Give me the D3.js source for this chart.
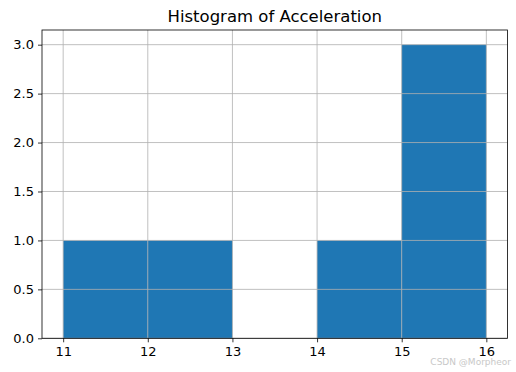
<!DOCTYPE html>
<html>
<head>
<meta charset="utf-8">
<script src="https://cdn.jsdelivr.net/npm/d3@7"></script>
<style>
  body { margin: 0; background: #fff; }
  svg text { font-family: "DejaVu Sans", sans-serif; }
</style>
</head>
<body>
<svg id="chart"></svg>
<script>
// Histogram bins (left edge, right edge) and counts
const binStarts = [11, 12, 13, 14, 15];
const binEnds = [12, 13, 14, 15, 16];
const counts = [1, 1, 0, 1, 3];
const xTicks = [11, 12, 13, 14, 15, 16];
const yTicks = [0, 0.5, 1.0, 1.5, 2.0, 2.5, 3.0];

function drawHistogram() {
    const width = 516;
    const height = 372;
    const margin = { top: 30, right: 8.5, bottom: 33.7, left: 42 };

    const xScale = d3.scaleLinear()
        .domain([10.75, 16.25])
        .range([margin.left, width - margin.right]);
    const yScale = d3.scaleLinear()
        .domain([0, 3.15])
        .range([height - margin.bottom, margin.top]);

    const svg = d3.select("#chart")
        .attr("width", width)
        .attr("height", height);

    const bins = binStarts.map((s, i) => ({ x0: s, x1: binEnds[i], n: counts[i] }));

    // Bars
    svg.append("g")
        .selectAll("rect")
        .data(bins)
        .join("rect")
        .attr("x", d => xScale(d.x0))
        .attr("y", d => yScale(d.n))
        .attr("width", d => xScale(d.x1) - xScale(d.x0))
        .attr("height", d => yScale(0) - yScale(d.n))
        .attr("fill", "#1f77b4");

    // Grid on top of bars
    const grid = svg.append("g")
        .attr("stroke", "#b0b0b0")
        .attr("stroke-width", 0.8);
    grid.selectAll("line.gx")
        .data(xTicks)
        .join("line")
        .attr("class", "gx")
        .attr("x1", d => xScale(d))
        .attr("x2", d => xScale(d))
        .attr("y1", margin.top)
        .attr("y2", height - margin.bottom);
    grid.selectAll("line.gy")
        .data(yTicks)
        .join("line")
        .attr("class", "gy")
        .attr("x1", margin.left)
        .attr("x2", width - margin.right)
        .attr("y1", d => yScale(d))
        .attr("y2", d => yScale(d));

    // Axes
    const xAxis = d3.axisBottom(xScale)
        .tickValues(xTicks)
        .tickFormat(d3.format("d"))
        .tickSize(4)
        .tickPadding(4)
        .tickSizeOuter(0);
    const yAxis = d3.axisLeft(yScale)
        .tickValues(yTicks)
        .tickFormat(d3.format(".1f"))
        .tickSize(4)
        .tickPadding(4)
        .tickSizeOuter(0);

    const gx = svg.append("g")
        .attr("transform", `translate(0,${height - margin.bottom})`)
        .call(xAxis);
    const gy = svg.append("g")
        .attr("transform", `translate(${margin.left},0)`)
        .call(yAxis);
    [gx, gy].forEach(g => {
        g.select(".domain").remove();
        g.selectAll("text").attr("font-size", 13).attr("fill", "#000");
        g.selectAll("line").attr("stroke", "#000").attr("stroke-width", 0.8);
    });

    // Frame
    svg.append("rect")
        .attr("x", margin.left)
        .attr("y", margin.top)
        .attr("width", width - margin.right - margin.left)
        .attr("height", height - margin.bottom - margin.top)
        .attr("fill", "none")
        .attr("stroke", "#000")
        .attr("stroke-width", 0.8);

    // Title
    svg.append("text")
        .attr("x", (margin.left + width - margin.right) / 2)
        .attr("y", 22)
        .attr("text-anchor", "middle")
        .attr("font-size", 16.5)
        .attr("fill", "#000")
        .text("Histogram of Acceleration");

    // Watermark
    svg.append("text")
        .attr("x", 511)
        .attr("y", 365)
        .attr("text-anchor", "end")
        .attr("font-size", 9)
        .attr("fill", "#c8c8c8")
        .text("CSDN @Morpheor");
}

drawHistogram();
</script>
</body>
</html>
